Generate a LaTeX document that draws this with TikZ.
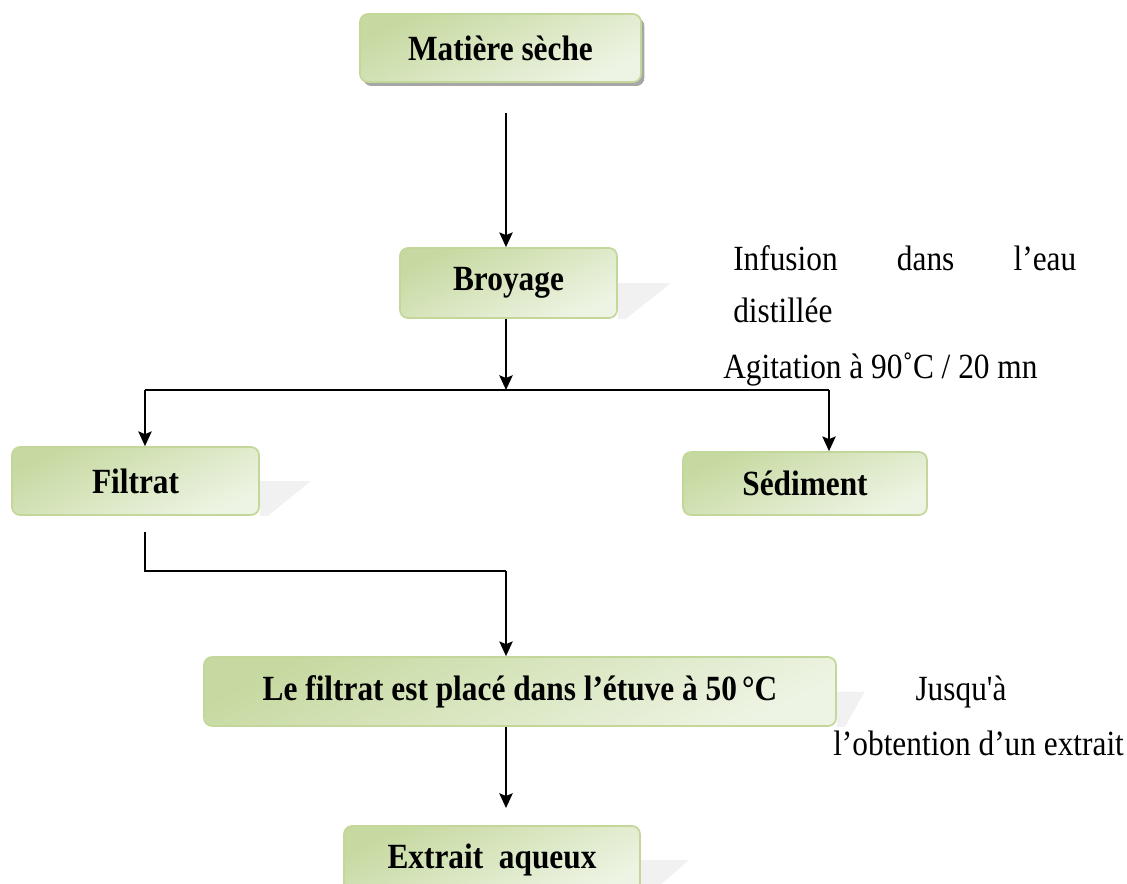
\documentclass[tikz,border=0pt]{standalone}
\usepackage{fontspec}
\setmainfont{Liberation Serif}
\usetikzlibrary{arrows.meta,shadows,backgrounds}
\definecolor{boxedge}{RGB}{196,215,155}
\definecolor{boxdark}{RGB}{198,217,160}
\definecolor{boxlight}{RGB}{238,244,228}
\definecolor{castgray}{RGB}{241,241,241}
% text is set slightly taller than its natural shape
\newcommand{\tallText}[1]{\scalebox{1}[1.13]{#1}}

\begin{document}
\begin{tikzpicture}[x=0.75pt,y=-0.75pt,
  stepbox/.style={rectangle, rounded corners=6pt, draw=boxedge, line width=1.3pt,
    top color=boxdark, bottom color=boxlight, shading angle=25,
    font=\bfseries\fontsize{23.5}{28}\selectfont, inner sep=0pt},
  note/.style={font=\fontsize{23.5}{28}\selectfont, inner sep=0pt, anchor=base west},
  conn/.style={line width=1.6pt},
  arr/.style={conn, -{Stealth[length=11pt,width=10pt,inset=2pt]}},
  cast/.style={fill=castgray, draw=none}
]
\useasboundingbox (0,0) rectangle (1127,884);
\clip (0,0) rectangle (1127,884);

% process steps
\node[stepbox, minimum width={281*0.75pt}, minimum height={68*0.75pt},
  drop shadow={shadow xshift=2.5pt, shadow yshift=-3pt, fill=black!35, opacity=1}]
  (ms) at (500.5,48) {\tallText{Matière sèche}};
\node[stepbox, minimum width={217*0.75pt}, minimum height={70*0.75pt}] (br) at (508.5,283) {\tallText{Broyage}};
\node[stepbox, minimum width={247*0.75pt}, minimum height={68*0.75pt}] (fi) at (135.5,481) {\tallText{Filtrat}};
\node[stepbox, minimum width={244*0.75pt}, minimum height={63*0.75pt}] (se) at (805,483.5) {\tallText{Sédiment}};
\node[stepbox, minimum width={632*0.75pt}, minimum height={69*0.75pt}] (lf) at (520,691.5) {\tallText{Le filtrat est placé dans l’étuve à 50\,°C}};
\node[stepbox, minimum width={296*0.75pt}, minimum height={68*0.75pt}] (ex) at (492,860) {\tallText{Extrait\ \ aqueux}};

% faint cast shadows behind the boxes
\begin{scope}[on background layer]
  \fill[cast] (br.east) -- ++(53,0) -- ([xshift=6pt]br.south east) -- (br.south east) -- cycle;
  \fill[cast] (fi.east) -- ++(51,0) -- ([xshift=6pt]fi.south east) -- (fi.south east) -- cycle;
  \fill[cast] (lf.east) -- ++(28,0) -- ([xshift=6pt]lf.south east) -- (lf.south east) -- cycle;
  \fill[cast] (ex.east) -- ++(48,0) -- ([xshift=6pt]ex.south east) -- (ex.south east) -- cycle;
\end{scope}

% connector waypoints
\coordinate (a1) at (506,113);
\coordinate (j1) at (506,390);
\coordinate (jl) at (145,390);
\coordinate (jr) at (829,390);
\coordinate (f1) at (145,532);
\coordinate (f2) at (145,571);
\coordinate (f3) at (506,571);
\coordinate (e1) at (506,808);

\draw[arr] (a1) -- (a1 |- br.north);
\draw[arr] (br.south -| a1) -- (j1);
\draw[conn] (jl) -- (jr);
\draw[arr] (jl) -- (jl |- fi.north);
\draw[arr] (jr) -- (jr |- se.north);
\draw[conn] (f1) -- (f2) -- (f3);
\draw[arr] (f3) -- (f3 |- lf.north);
\draw[arr] (lf.south -| e1) -- (e1);

% side notes
\node[note] (n1) at (733,270) {\tallText{\makebox[257.25pt][s]{Infusion dans l’eau}}};
\node[note] (n2) at (733,322) {\tallText{distillée}};
\node[note] (n3) at (723,378) {\tallText{Agitation à 90˚C / 20 mn}};
\node[note, anchor=base] (n4) at (961,700) {\addfontfeatures{Ligatures=TeXOff}\tallText{Jusqu'à}};
\node[note] (n5) at (833,755) {\tallText{l’obtention d’un extrait}};
\end{tikzpicture}
\end{document}
